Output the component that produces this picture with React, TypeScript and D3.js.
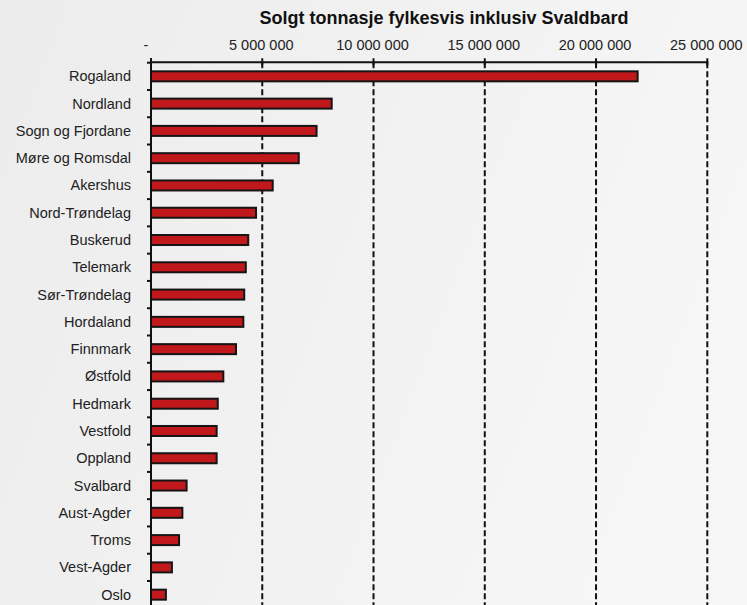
import React from "react";
import * as d3 from "d3";

const categories = [
  "Rogaland", "Nordland", "Sogn og Fjordane", "Møre og Romsdal", "Akershus",
  "Nord-Trøndelag", "Buskerud", "Telemark", "Sør-Trøndelag", "Hordaland",
  "Finnmark", "Østfold", "Hedmark", "Vestfold", "Oppland",
  "Svalbard", "Aust-Agder", "Troms", "Vest-Agder", "Oslo",
];
const values = [
  21870000, 8120000, 7440000, 6640000, 5470000,
  4720000, 4370000, 4260000, 4190000, 4150000,
  3820000, 3250000, 3000000, 2950000, 2950000,
  1600000, 1410000, 1260000, 940000, 670000,
];
const tickValues = [0, 5000000, 10000000, 15000000, 20000000, 25000000];
const title = "Solgt tonnasje fylkesvis inklusiv Svaldbard";

const W = 747;
const H = 605;

function fmt(v: number): string {
  if (v === 0) return "-";
  return d3.format(",")(v).replace(/,/g, " ");
}

export default function App() {
  const x = d3.scaleLinear().domain([0, 25000000]).range([151, 707.3]);
  const y = d3.scaleBand<string>().domain(categories).range([62.7, 608.3]).paddingInner(0).paddingOuter(0);
  const step = y.step();
  const barH = 10;
  const axisY = 62.3;
  const font = "'Liberation Sans', Arial, sans-serif";

  return (
    <svg width={W} height={H} style={{ position: "absolute", left: 0, top: 0, display: "block" }}>
      <defs>
        <linearGradient id="bg" x1="0" y1="0" x2="1" y2="0.3">
          <stop offset="0" stopColor="#ececec" />
          <stop offset="1" stopColor="#f6f6f6" />
        </linearGradient>
      </defs>
      <rect x={0} y={0} width={W} height={H} fill="url(#bg)" />
      <text x={444} y={24} textAnchor="middle" fontFamily={font} fontWeight="bold" fontSize={18} fill="#111">
        {title}
      </text>
      {/* gridlines */}
      {tickValues.filter((t) => t > 0).map((t) => (
        <line key={"g" + t} x1={x(t)} x2={x(t)} y1={axisY} y2={H} stroke="#111" strokeWidth={2} strokeDasharray="6,3" />
      ))}
      {/* bars */}
      {categories.map((c, i) => (
        <rect
          key={c}
          x={x(0)}
          y={(y(c) as number) + step / 2 - barH / 2}
          width={x(values[i]) - x(0)}
          height={barH}
          fill="#c1181c"
          stroke="#151515"
          strokeWidth={2}
        />
      ))}
      {/* top axis */}
      <line x1={x(0) - 1} x2={x(25000000) + 1} y1={axisY} y2={axisY} stroke="#111" strokeWidth={2} />
      {tickValues.map((t) => (
        <g key={"t" + t}>
          <line x1={x(t)} x2={x(t)} y1={axisY - 4} y2={axisY + 3} stroke="#111" strokeWidth={2} />
          <text
            x={t === 0 ? x(t) - 5 : x(t) - 1}
            y={50}
            textAnchor="middle"
            fontFamily={font}
            fontSize={14.5}
            fill="#222"
          >
            {fmt(t)}
          </text>
        </g>
      ))}
      {/* left axis */}
      <line x1={x(0)} x2={x(0)} y1={axisY - 4} y2={H} stroke="#111" strokeWidth={2} />
      {categories.map((c, i) => (
        <line
          key={"lt" + c}
          x1={x(0) - 4}
          x2={x(0)}
          y1={(y(c) as number)}
          y2={(y(c) as number)}
          stroke="#111"
          strokeWidth={2}
        />
      ))}
      {categories.map((c) => (
        <text
          key={"l" + c}
          x={131}
          y={(y(c) as number) + step / 2 + 5}
          textAnchor="end"
          fontFamily={font}
          fontSize={14.5}
          fill="#222"
        >
          {c}
        </text>
      ))}
    </svg>
  );
}
